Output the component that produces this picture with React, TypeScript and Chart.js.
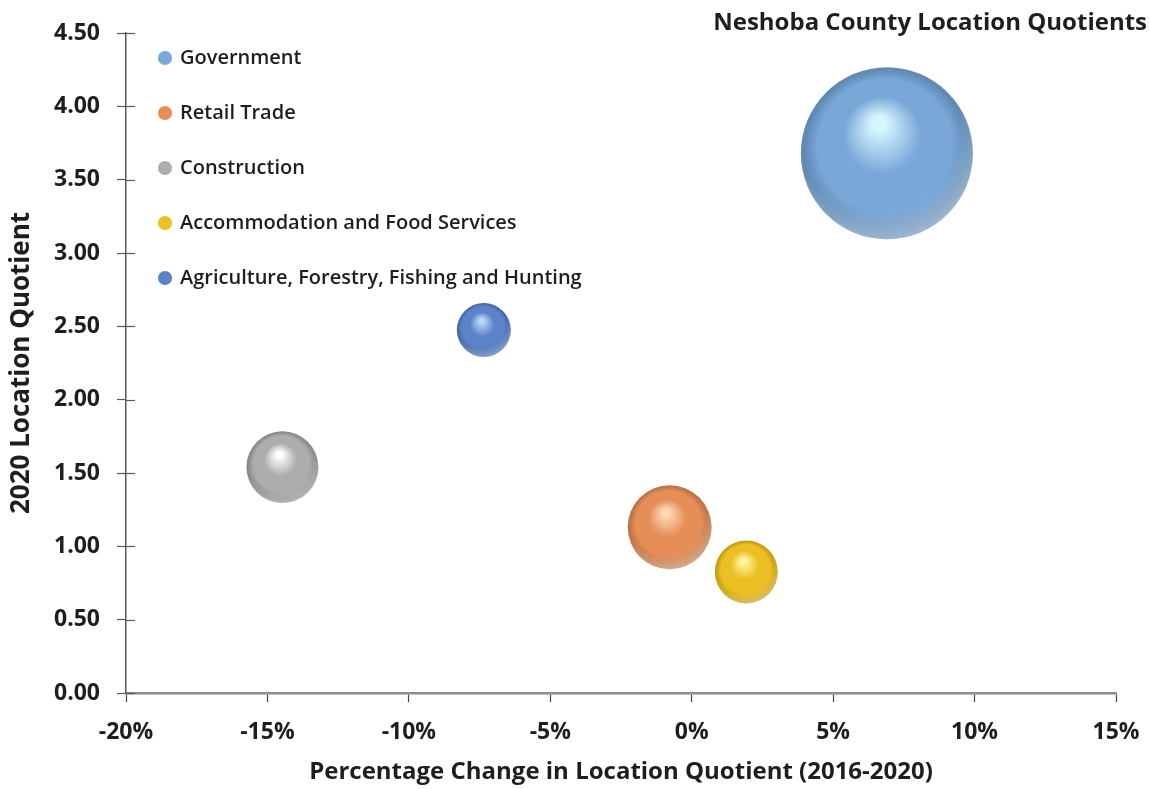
import React, { useEffect, useRef } from "react";
import { Chart, registerables } from "chart.js";

Chart.register(...registerables);

// ---------- data ----------
const industries = [
  "Government",
  "Retail Trade",
  "Construction",
  "Accommodation and Food Services",
  "Agriculture, Forestry, Fishing and Hunting",
];
const pctChange = [6.9, -0.78, -14.47, 1.93, -7.35]; // % change in LQ 2016-2020
const locationQuotient = [3.68, 1.13, 1.54, 0.825, 2.475]; // 2020 LQ
const bubbleSize = [100, 23.85, 17.5, 13.4, 9.86]; // relative bubble area

const xTickValues = [-20, -15, -10, -5, 0, 5, 10, 15];
const yTickValues = [0, 0.5, 1, 1.5, 2, 2.5, 3, 3.5, 4, 4.5];

const chartTitle = "Neshoba County Location Quotients";
const xAxisTitle = "Percentage Change in Location Quotient (2016-2020)";
const yAxisTitle = "2020 Location Quotient";

// ---------- styles ----------
const baseColors = ["#79a7d8", "#e58e58", "#adadad", "#ecbf24", "#5c83c9"];
const lightColors = ["#d6f6ff", "#ffd6b4", "#ffffff", "#fff59a", "#b6d8f8"];
const darkColors = ["#6189b3", "#bb7446", "#888888", "#c29c0c", "#4767a5"];
const MAX_RADIUS = 86;
const FONT = "'Open Sans', 'Noto Sans', sans-serif";
const TEXT = "#1e1e1e";

function sphereFill(c: any) {
  const i = c.datasetIndex ?? 0;
  const raw = c.raw;
  const chart = c.chart;
  const xs = chart.scales?.x;
  const ys = chart.scales?.y;
  if (!raw || !xs || !ys) return baseColors[i];
  const cx = xs.getPixelForValue(raw.x);
  const cy = ys.getPixelForValue(raw.y);
  const r = raw.r;
  if (!isFinite(cx) || !isFinite(cy) || !r) return baseColors[i];
  const g = chart.ctx.createRadialGradient(cx - 0.1 * r, cy - 0.38 * r, 0, cx, cy, r);
  g.addColorStop(0, lightColors[i]);
  g.addColorStop(0.08, lightColors[i]);
  g.addColorStop(0.45, baseColors[i]);
  g.addColorStop(0.78, baseColors[i]);
  g.addColorStop(0.96, darkColors[i]);
  g.addColorStop(1, darkColors[i]);
  return g;
}

const layoutPlugin = {
  id: "layoutTweaks",
  afterLayout(chart: any) {
    const lg = chart.legend;
    const area = chart.chartArea;
    if (lg && area) {
      const h = lg.bottom - lg.top;
      lg.top = area.top - 20;
      lg.bottom = lg.top + h;
      const w = lg.right - lg.left;
      lg.left = area.left - 1;
      lg.right = lg.left + w;
    }
  },
  afterDatasetsDraw(chart: any) {
    // soft reflection along the lower edge of each sphere
    const ctx = chart.ctx;
    chart.data.datasets.forEach((_: any, di: number) => {
      const meta = chart.getDatasetMeta(di);
      meta.data.forEach((el: any) => {
        const r = el.options?.radius ?? 0;
        if (!r) return;
        const { x, y } = el;
        ctx.save();
        ctx.beginPath();
        ctx.arc(x, y, r, 0, Math.PI * 2);
        ctx.clip();
        const g = ctx.createRadialGradient(x - 0.1 * r, y - 0.25 * r, r * 0.95, x - 0.1 * r, y - 0.25 * r, r * 1.3);
        g.addColorStop(0, "rgba(255,255,255,0)");
        g.addColorStop(1, "rgba(255,255,255,0.45)");
        ctx.fillStyle = g;
        ctx.fillRect(x - r, y - r, 2 * r, 2 * r);
        ctx.restore();
      });
    });
  },
  afterDraw(chart: any) {
    // inner half of the crossing y-axis tick marks
    const y = chart.scales.y;
    const ctx = chart.ctx;
    const left = chart.chartArea.left;
    ctx.save();
    ctx.strokeStyle = "#595959";
    ctx.lineWidth = 1.2;
    y.ticks.forEach((_: any, i: number) => {
      const py = Math.round(y.getPixelForTick(i)) + 0.5;
      ctx.beginPath();
      ctx.moveTo(left, py);
      ctx.lineTo(left + 9, py);
      ctx.stroke();
    });
    ctx.restore();
  },
};

export default function App() {
  const canvasRef = useRef<HTMLCanvasElement | null>(null);

  useEffect(() => {
    if (!canvasRef.current) return;
    const datasets = industries.map((name, i) => ({
      label: name,
      data: [
        {
          x: pctChange[i],
          y: locationQuotient[i],
          r: MAX_RADIUS * Math.sqrt(bubbleSize[i] / Math.max(...bubbleSize)),
        },
      ],
      backgroundColor: sphereFill,
      borderWidth: 0,
      hoverBorderWidth: 0,
    }));

    const chart = new Chart(canvasRef.current, {
      type: "bubble",
      data: { datasets },
      plugins: [layoutPlugin],
      options: {
        animation: false,
        responsive: false,
        maintainAspectRatio: false,
        events: [],
        layout: { autoPadding: false, padding: { left: 0, right: 3, top: 0, bottom: 0 } },
        plugins: {
          tooltip: { enabled: false },
          title: {
            display: true,
            text: chartTitle,
            align: "end",
            color: TEXT,
            font: { family: FONT, size: 24, weight: "bold", lineHeight: 1.0 },
            padding: { top: 11, bottom: -2 },
          },
          legend: {
            display: true,
            position: "chartArea",
            align: "start",
            labels: {
              usePointStyle: true,
              pointStyle: "circle",
              boxWidth: 10,
              boxHeight: 10,
              padding: 35,
              color: TEXT,
              font: { family: FONT, size: 20, weight: 600 },
              generateLabels: (ch: any) =>
                ch.data.datasets.map((ds: any, i: number) => ({
                  text: ds.label,
                  fillStyle: baseColors[i],
                  strokeStyle: baseColors[i],
                  lineWidth: 0,
                  pointStyle: "circle",
                  hidden: false,
                  datasetIndex: i,
                  fontColor: TEXT,
                })),
            },
          },
        },
        scales: {
          x: {
            type: "linear",
            min: xTickValues[0],
            max: xTickValues[xTickValues.length - 1],
            afterBuildTicks: (s: any) => {
              s.ticks = xTickValues.map((v) => ({ value: v }));
            },
            afterFit: (s: any) => {
              s.height = 96;
              s.paddingLeft = 0;
              s.paddingRight = 0;
            },
            ticks: {
              padding: 17,
              color: TEXT,
              font: { family: FONT, size: 23, weight: "bold" },
              callback: (v: any) => `${v}%`,
              maxRotation: 0,
            },
            grid: {
              display: true,
              drawOnChartArea: false,
              drawTicks: true,
              tickLength: 9,
              tickWidth: 1.2,
              tickColor: "#404040",
            },
            border: { display: true, color: "#8c8c8c", width: 2.5 },
            title: {
              display: true,
              text: xAxisTitle,
              color: TEXT,
              font: { family: FONT, size: 24, weight: "bold", lineHeight: 1.2 },
              padding: { top: 6, bottom: 2 },
            },
          },
          y: {
            type: "linear",
            position: "left",
            min: yTickValues[0],
            max: yTickValues[yTickValues.length - 1],
            afterBuildTicks: (s: any) => {
              s.ticks = yTickValues.map((v) => ({ value: v }));
            },
            afterFit: (s: any) => {
              s.width = 126;
              s.paddingTop = 0;
              s.paddingBottom = 0;
            },
            ticks: {
              padding: 17,
              color: TEXT,
              font: { family: FONT, size: 23, weight: "bold" },
              callback: (v: any) => Number(v).toFixed(2),
            },
            grid: {
              display: true,
              drawOnChartArea: false,
              drawTicks: true,
              tickLength: 9,
              tickWidth: 1.2,
              tickColor: "#595959",
            },
            border: { display: true, color: "#595959", width: 1.5 },
            title: {
              display: true,
              text: yAxisTitle,
              color: TEXT,
              font: { family: FONT, size: 26, weight: "bold", lineHeight: 1.2 },
              padding: { top: 6, bottom: 0 },
            },
          },
          y2: {
            type: "linear",
            position: "right",
            display: true,
            ticks: { display: false },
            grid: { display: false, drawTicks: false },
            border: { display: false },
            afterFit: (s: any) => {
              s.width = 31;
              s.paddingTop = 0;
              s.paddingBottom = 0;
            },
          },
        },
      } as any,
    });
    return () => chart.destroy();
  }, []);

  return (
    <div
      style={{
        position: "absolute",
        left: 0,
        top: 0,
        width: 1150,
        height: 789,
        background: "#ffffff",
      }}
    >
      <canvas ref={canvasRef} width={1150} height={789} style={{ width: 1150, height: 789 }} />
    </div>
  );
}
